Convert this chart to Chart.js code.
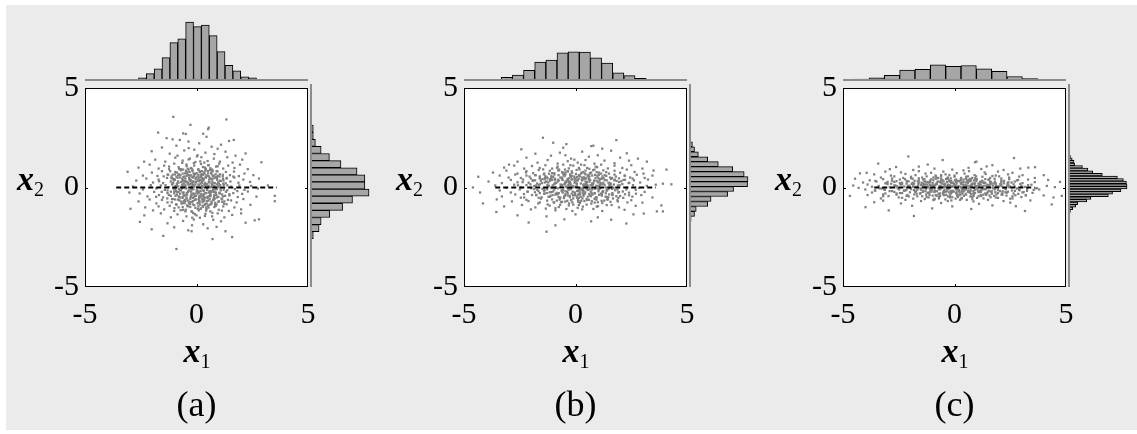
<!DOCTYPE html>
<html>
<head>
<meta charset="utf-8">
<script src="https://cdn.jsdelivr.net/npm/chart.js@4.4.1/dist/chart.umd.min.js"></script>
<style>
  html, body { margin: 0; padding: 0; background: #fff; }
  #bg { position: absolute; left: 6px; top: 5px; width: 1131px; height: 425px; background: #ebebeb; }
  canvas { position: absolute; }
  .lab { position: absolute; font-family: "Liberation Serif", "Times New Roman", serif; color: #000; white-space: nowrap; }
  .ax { font-size: 34px; line-height: 34px; font-style: italic; font-weight: bold; }
  .ax span { font-size: 20px; font-style: normal; font-weight: normal; position: relative; top: 6px; }
  .pl { font-size: 36px; line-height: 36px; text-align: center; width: 100px; }
</style>
</head>
<body>
<div id="bg"></div>
<script>
// x1 histogram (top) bin centres and counts, per panel
const topBinsA = [-3.134, -2.781, -2.428, -2.075, -1.722, -1.369, -1.016, -0.663, -0.310, 0.043, 0.396, 0.749, 1.102, 1.455, 1.808, 2.161, 2.514, 2.867, 3.220, 3.573];
const topCountsA = [3, 2, 8, 18, 30, 57, 94, 103, 144, 133, 137, 111, 72, 38, 25, 10, 8, 4, 1, 2];
const topBinsB = [-4.58, -4.08, -3.58, -3.08, -2.58, -2.08, -1.58, -1.08, -0.58, -0.08, 0.42, 0.92, 1.42, 1.92, 2.42, 2.92, 3.42, 3.92, 4.42];
const topCountsB = [3, 3, 2, 18, 28, 51, 91, 101, 135, 140, 139, 111, 86, 39, 26, 13, 8, 3, 2];
const topBinsC = [-4.868, -4.180, -3.492, -2.804, -2.116, -1.428, -0.740, -0.052, 0.636, 1.324, 2.012, 2.700, 3.388, 4.076, 4.764];
const topCountsC = [7, 18, 29, 51, 98, 105, 145, 130, 138, 109, 87, 40, 22, 14, 7];

// x2 histogram (right) bin centres (top to bottom) and counts
const sideBinsA = [3.50, 3.15, 2.80, 2.45, 2.10, 1.75, 1.40, 1.05, 0.70, 0.35, 0.00, -0.35, -0.70, -1.05, -1.40, -1.75, -2.10, -2.45, -2.80, -3.15];
const sideCountsA = [3, 3, 8, 8, 13, 27, 47, 75, 114, 133, 133, 143, 103, 79, 48, 27, 22, 8, 2, 3];
const sideBinsB = [2.520, 2.275, 2.030, 1.785, 1.540, 1.295, 1.050, 0.805, 0.560, 0.315, 0.070, -0.175, -0.420, -0.665, -0.910, -1.155, -1.400, -1.645, -1.890, -2.135];
const sideCountsB = [3, 3, 8, 13, 22, 44, 69, 103, 130, 139, 138, 105, 91, 52, 44, 17, 13, 5, 3, 2];
const sideBinsC = [1.556, 1.428, 1.300, 1.172, 1.044, 0.916, 0.788, 0.660, 0.532, 0.404, 0.276, 0.148, 0.020, -0.108, -0.236, -0.364, -0.492, -0.620, -0.748, -0.876, -1.004, -1.132, -1.260, -1.388];
const sideCountsC = [3, 4, 7, 10, 11, 24, 33, 41, 57, 82, 92, 97, 98, 98, 88, 74, 67, 38, 31, 16, 13, 8, 4, 3];

// dashed reference line
const lineX = [-3.6, 3.6];
const lineY = [0, 0];

// tick values
const tickVals = [-5, 0, 5];
const panelLabels = ['(a)', '(b)', '(c)'];

// scatter points, x1,x2 pairs
const scatterA = [
  -1.04,3.55, 1.34,3.42, -0.27,3.15, 0.55,3.01,
  0.52,2.93, -1.72,2.76, -0.6,2.72, -0.48,2.69, 0.3,2.7,
  -1.34,2.48, -1.07,2.42, -0.75,2.39, -0.36,2.31, 0.45,2.55, 1.46,2.34, 1.67,2.39,
  -0.9,2.1, 0.12,2.22, 0.68,2.05, 1.1,2.15, -0.35,1.98, -1.55,2.01, 0.95,1.95,
  -2.01,1.82, -1.2,1.7, -0.55,1.86, 0.05,1.62, 0.4,1.75, 0.8,1.68, 1.3,1.8, 1.75,1.6, -0.1,1.9, -0.85,1.6, 2.2,1.71,
  2.91,1.27, -1.85,1.4, -1.4,1.3, -0.95,1.5, -0.62,1.35, -0.3,1.45, -0.05,1.28, 0.22,1.52, 0.5,1.33, 0.78,1.45, 1.05,1.3, 1.38,1.52, 1.62,1.25, 2.05,1.4, -2.35,1.3, 0.35,1.25,
  -2.6,1.0, -2.1,1.15, -1.7,0.95, -1.45,1.1, -1.23,0.92, -1.0,1.2, -0.8,1.02, -0.6,0.9, -0.45,1.15, -0.25,0.98, -0.1,1.1, 0.08,0.92, 0.2,1.18, 0.38,1.0, 0.55,1.12, 0.7,0.9, 0.88,1.05, 1.02,1.2, 1.2,0.95, 1.42,1.1, 1.7,0.98, 1.95,1.15, 2.3,0.92, -0.35,0.9, 0.62,0.97,
  -3.09,0.79, -2.4,0.6, -2.0,0.75, -1.75,0.58, -1.55,0.82, -1.3,0.65, -1.12,0.55, -0.95,0.78, -0.82,0.62, -0.7,0.86, -0.55,0.55, -0.42,0.72, -0.3,0.6, -0.18,0.82, -0.05,0.68, 0.05,0.55, 0.15,0.78, 0.28,0.64, 0.4,0.85, 0.52,0.58, 0.65,0.74, 0.78,0.6, 0.9,0.82, 1.05,0.66, 1.18,0.55, 1.32,0.78, 1.5,0.62, 1.68,0.8, 1.9,0.57, 2.15,0.7, 2.55,0.62, -0.12,0.58, 0.35,0.7, -0.62,0.7, 0.72,0.84,
  -2.7,0.35, -2.25,0.45, -1.95,0.25, -1.7,0.4, -1.5,0.22, -1.32,0.48, -1.15,0.3, -1.0,0.42, -0.88,0.2, -0.75,0.5, -0.62,0.32, -0.5,0.45, -0.38,0.24, -0.26,0.38, -0.15,0.5, -0.03,0.28, 0.08,0.44, 0.18,0.2, 0.3,0.36, 0.42,0.5, 0.55,0.26, 0.68,0.42, 0.8,0.22, 0.92,0.48, 1.05,0.34, 1.2,0.2, 1.35,0.45, 1.52,0.3, 1.7,0.5, 1.88,0.24, 2.1,0.4, 2.4,0.28, 2.8,0.45, -0.45,0.3, 0.12,0.32, 0.6,0.48, -1.05,0.22, 0.25,0.48, -0.2,0.22, 1.0,0.2,
  -2.85,0.05, -2.4,-0.1, -2.05,0.12, -1.8,-0.05, -1.6,0.1, -1.42,-0.12, -1.25,0.02, -1.1,0.15, -0.95,-0.08, -0.82,0.06, -0.7,-0.15, -0.58,0.1, -0.46,-0.02, -0.34,0.14, -0.22,-0.1, -0.1,0.04, 0.02,-0.14, 0.12,0.1, 0.24,-0.04, 0.36,0.16, 0.48,-0.12, 0.6,0.02, 0.72,0.12, 0.84,-0.1, 0.96,0.06, 1.08,-0.05, 1.22,0.13, 1.38,-0.14, 1.55,0.04, 1.72,-0.08, 1.92,0.1, 2.15,-0.12, 2.45,0.08, 2.75,-0.05, 3.2,0.1, -0.05,0.15, 0.3,-0.15, -0.65,-0.05, 0.55,0.08, -1.3,-0.15,
  -3.01,-0.25, 3.51,-0.42, 2.69,-0.46, -2.55,-0.3, -2.2,-0.45, -1.9,-0.22, -1.68,-0.38, -1.5,-0.5, -1.3,-0.28, -1.15,-0.42, -1.0,-0.2, -0.88,-0.35, -0.75,-0.5, -0.62,-0.26, -0.5,-0.4, -0.38,-0.22, -0.26,-0.48, -0.14,-0.3, -0.02,-0.42, 0.1,-0.2, 0.2,-0.36, 0.32,-0.5, 0.44,-0.28, 0.56,-0.44, 0.68,-0.22, 0.8,-0.38, 0.92,-0.5, 1.05,-0.3, 1.18,-0.45, 1.32,-0.22, 1.48,-0.4, 1.65,-0.28, 1.85,-0.48, 2.05,-0.32, 2.3,-0.2, 0.0,-0.25, 0.25,-0.45, -0.45,-0.5, 0.62,-0.32, -0.8,-0.22, 0.15,-0.5, 0.85,-0.25, -0.2,-0.35,
  3.51,-0.69, 2.42,-0.87, -2.6,-0.7, -2.1,-0.6, -1.8,-0.8, -1.55,-0.62, -1.3,-0.75, -1.1,-0.58, -0.92,-0.85, -0.76,-0.65, -0.6,-0.78, -0.44,-0.56, -0.3,-0.72, -0.16,-0.85, -0.02,-0.6, 0.12,-0.75, 0.26,-0.58, 0.4,-0.82, 0.54,-0.66, 0.68,-0.8, 0.82,-0.56, 0.98,-0.72, 1.15,-0.6, 1.35,-0.84, 1.55,-0.65, 1.8,-0.75, 2.1,-0.58, 0.05,-0.8, 0.35,-0.68, -0.5,-0.68, 0.9,-0.85, 1.25,-0.7,
  -2.96,-1.07, -2.3,-1.0, -1.95,-1.15, -1.7,-0.95, -1.45,-1.1, -1.2,-0.92, -1.0,-1.18, -0.8,-1.0, -0.6,-1.12, -0.4,-0.94, -0.22,-1.2, -0.05,-1.02, 0.1,-1.15, 0.28,-0.92, 0.45,-1.08, 0.62,-1.2, 0.8,-0.98, 1.0,-1.12, 1.2,-0.95, 1.45,-1.18, 1.7,-1.0, 2.0,-1.1, 0.2,-1.05, -0.5,-1.2,
  -2.34,-1.4, -1.6,-1.3, -1.15,-1.5, -0.85,-1.35, -0.45,-1.45, -0.15,-1.28, 0.15,-1.52, 0.4,-1.32, 0.7,-1.45, 0.95,-1.3, 1.25,-1.5, 1.6,-1.38, 2.0,-1.3, 0.0,-1.4,
  2.61,-1.65, 2.8,-1.6, 2.2,-1.77, -2.54,-1.73, -1.3,-1.8, -0.6,-1.68, 0.3,-1.85, 1.1,-1.7, 0.75,-1.62, -0.2,-1.9,
  -2.01,-2.1, -0.37,-2.15, -0.22,-2.2, -1.0,-2.0, 0.5,-2.05, 1.3,-2.2, 0.9,-1.98,
  -1.49,-2.43, 1.6,-2.49, 0.72,-2.59, -0.9,-3.09,
  0.13,-0.42, -0.57,0.21, 0.81,0.07, -0.29,-0.83, 0.44,0.61, -0.92,-0.18, 0.06,0.33, 1.12,-0.56, -0.41,0.77, 0.67,-0.71, -0.14,-0.09, 0.29,1.03, -1.06,0.44, 0.93,0.38, -0.63,-0.52, 0.18,-1.07, -0.33,0.49, 0.55,-0.24, -0.78,0.93, 1.31,0.21,
  -0.05,-0.61, 0.72,0.81, -1.24,-0.37, 0.37,-0.88, -0.47,-0.05, 0.01,0.72, 1.02,-0.27, -0.69,0.28, 0.24,0.09, -0.21,-1.21, 0.61,0.46, -0.97,0.66, 0.49,-0.53, -0.11,0.57, 0.86,-0.93, -0.53,-0.79, 1.18,0.64, -0.36,0.16, 0.11,-0.26, -0.83,-0.61,
  0.39,0.23, -0.18,0.88, 0.74,-0.12, -1.39,0.12, 0.07,-0.78, -0.59,0.52, 1.47,-0.34, -0.25,-0.44, 0.52,1.12, -0.74,-0.31, 0.33,-0.35, -0.44,1.07, 0.96,0.59, -1.11,-0.74, 0.21,0.54, -0.07,-1.34, 0.63,-0.44, -0.88,0.13, 1.24,-0.82, -0.16,0.31,
  0.47,-0.06, -0.62,-0.98, 0.15,0.81, 1.09,0.33, -0.38,-0.66, 0.78,-0.53, -1.02,0.35, 0.03,0.02, -0.51,0.71, 0.58,0.27, -0.24,-0.21, 1.36,0.48, -0.79,-0.08, 0.27,-0.63, -0.12,1.22, 0.89,-0.38, -1.31,-0.55, 0.42,0.94, -0.48,-1.12, 0.69,0.14,
  -0.31,0.41, 0.12,-0.51, -0.85,0.49, 1.01,-0.69, -0.03,0.49, 0.54,-1.01, -0.66,0.04, 0.31,0.66, -1.18,0.82, 0.82,0.22, -0.42,-0.36, 0.19,-0.19, -0.71,-1.14, 1.22,-0.11, 0.08,-0.95, -0.26,0.62, 0.64,-0.84, -0.94,-0.42, 0.36,0.13, -0.09,-0.33,
  1.53,0.03, -1.47,0.56, 0.17,1.31, -0.19,-1.52, 0.95,1.07, -0.99,-1.04, 1.41,-0.62, -1.56,-0.22, 0.71,-1.27, -0.64,1.24, 1.65,0.55, -1.68,0.31, 0.38,-1.43, -0.35,1.41, 1.14,-1.16, -1.23,1.05, 1.83,-0.18, -1.81,-0.47, 0.02,1.56, -0.12,-1.61,
  0.57,0.39, -0.46,0.26, 0.22,-0.34, -0.17,0.14, 0.46,-0.81, -0.72,0.61, 0.88,0.52, -0.58,-0.25, 0.09,0.64, 0.66,-0.19, -0.28,-0.57, 0.32,0.44, -0.89,-0.86, 1.06,0.12, -0.06,-0.43, 0.51,0.83, -1.08,0.17, 0.76,-0.64, -0.39,0.94, 0.14,-0.71,
  0.98,-0.47, -0.55,-0.41, 0.26,0.27, -0.13,0.71, 0.61,-0.33, -0.81,0.24, 0.43,-1.16, -0.23,0.05, 1.19,0.42, -0.68,-0.71, 0.04,-0.18, 0.35,0.76, -1.15,-0.21, 0.84,-0.77, -0.37,-0.93, 0.16,0.38, 1.28,-0.42, -0.97,0.39, 0.53,0.08, -0.2,-0.72,
  -0.02,0.26, 0.68,0.66, -0.6,0.37, 0.29,-0.97, -0.33,-0.14, 0.79,-0.22, -1.27,0.64, 1.16,-0.73, -0.45,0.58, 0.1,-0.58, 0.41,0.52, -0.77,-0.48, 0.92,0.16, -0.15,-0.68, 0.23,0.68, -0.52,-0.62, 1.38,0.11, -1.05,-0.58, 0.59,-0.58, -0.27,0.32,
  0.34,-0.16, -0.49,0.11, 0.71,0.3, -0.16,-0.52, 0.25,0.82, -0.73,-0.12, 0.58,-0.87, -0.3,0.36, 0.92,-0.08, -0.87,0.75, 0.05,-0.31, 0.46,0.17, -0.56,-0.67, 0.14,0.51, 1.03,0.55, -0.21,0.95, 0.63,-0.39, -1.0,-0.29, 0.27,-0.74, -0.38,0.62,
  0.8,0.47, -0.64,0.44, 0.18,-0.04, -0.1,-0.89, 0.52,0.71, -0.95,0.07, 0.39,-0.5, -0.44,-0.27, 1.15,-0.35, -0.26,0.19, 0.09,0.88, 0.75,-0.61, -0.7,0.92, 0.31,0.39, -0.12,-0.46, 0.66,0.02, -1.12,0.47, 0.43,-1.01, -0.34,-0.78, 0.97,0.26,
  -0.04,0.41, 0.6,-0.17, -0.8,-0.44, 0.2,0.62, -0.52,0.33, 0.86,0.66, -0.24,-0.07, 0.37,-0.29, -0.9,0.55, 0.12,-0.66, 0.55,0.55, -0.42,-0.9, 1.08,-0.15, -0.65,0.15, 0.02,-0.12, 0.7,0.42, -0.31,0.78, 0.48,-0.68, -1.03,-0.06, 0.24,0.24,
  0.87,-0.27, -0.58,-0.36, 0.16,-0.86, -0.19,0.53, 0.61,0.88, -0.83,0.31, 0.42,0.06, -0.07,-0.62, 1.21,0.35, -0.47,0.84, 0.3,-0.41, -0.67,-0.81, 0.79,-0.45, -0.13,0.27, 0.51,-0.93, -1.07,0.64, 0.09,0.15, -0.36,-0.18, 0.94,0.81, -0.28,-0.98,
  0.68,0.2, -0.78,0.66, 0.35,-0.59, -0.1,0.66, 0.59,-0.27, -0.96,-0.6, 0.22,0.36, -0.5,0.02, 1.0,0.03, -0.23,-0.34, 0.41,0.92, -0.62,-0.48, 0.83,-0.86, -0.33,0.47, 0.06,-1.08, 0.73,0.56, -0.86,-0.23, 0.28,0.02, -0.15,0.12, 0.5,-0.46
];

const scatterB = [
  -1.46,2.5, 1.83,2.38, -0.41,2.18, -1.0,2.25,
  0.71,2.08, 0.8,2.1, -2.43,1.92, -0.55,2.0, 1.2,1.95,
  -0.7,1.75, 0.3,1.8, -1.8,1.7, 1.6,1.85, 2.3,1.72,
  -2.2,1.5, -1.1,1.6, -0.2,1.45, 0.6,1.55, 1.0,1.62, 2.0,1.5, 2.8,1.45, -0.45,1.62,
  -2.98,1.15, -2.6,1.3, -1.7,1.25, -1.25,1.38, -0.8,1.2, -0.35,1.32, 0.1,1.25, 0.45,1.38, 0.85,1.2, 1.3,1.35, 1.75,1.22, 2.4,1.35, 3.2,1.3, -0.05,1.4,
  -3.2,1.0, -2.75,1.1, -2.3,0.95, -1.95,1.08, -1.6,0.98, -1.35,1.12, -1.05,0.95, -0.8,1.05, -0.55,1.15, -0.3,0.96, -0.1,1.1, 0.15,0.98, 0.4,1.12, 0.62,0.94, 0.9,1.05, 1.15,1.15, 1.45,0.96, 1.75,1.1, 2.1,0.98, 2.5,1.12, 3.0,0.95, 0.25,1.15,
  4.08,0.9, -3.7,0.75, -3.1,0.85, -2.6,0.7, -2.2,0.82, -1.9,0.72, -1.65,0.88, -1.4,0.7, -1.15,0.84, -0.95,0.72, -0.75,0.9, -0.55,0.7, -0.35,0.82, -0.15,0.74, 0.05,0.88, 0.25,0.7, 0.45,0.85, 0.65,0.72, 0.85,0.9, 1.05,0.75, 1.25,0.86, 1.5,0.7, 1.75,0.84, 2.0,0.74, 2.3,0.9, 2.65,0.78, 3.05,0.7, 3.5,0.85, -0.45,0.76, 0.35,0.78, 1.15,0.7,
  -4.36,0.54, -3.4,0.6, -3.0,0.5, -2.7,0.65, -2.45,0.48, -2.2,0.6, -2.0,0.45, -1.8,0.62, -1.6,0.5, -1.42,0.66, -1.25,0.46, -1.08,0.58, -0.92,0.44, -0.76,0.62, -0.6,0.5, -0.45,0.66, -0.3,0.46, -0.15,0.58, 0.0,0.44, 0.15,0.62, 0.3,0.5, 0.45,0.66, 0.6,0.46, 0.75,0.6, 0.9,0.48, 1.05,0.64, 1.2,0.45, 1.38,0.58, 1.55,0.5, 1.75,0.65, 1.95,0.46, 2.2,0.6, 2.45,0.5, 2.75,0.64, 3.1,0.48, 3.45,0.6, -0.05,0.55, 0.55,0.56, -1.0,0.52,
  -3.9,0.3, -3.3,0.22, -2.9,0.38, -2.6,0.26, -2.35,0.4, -2.1,0.24, -1.9,0.36, -1.72,0.2, -1.55,0.34, -1.38,0.42, -1.22,0.25, -1.06,0.38, -0.9,0.22, -0.75,0.35, -0.6,0.42, -0.46,0.2, -0.32,0.32, -0.18,0.4, -0.04,0.24, 0.1,0.36, 0.24,0.2, 0.38,0.42, 0.52,0.28, 0.66,0.38, 0.8,0.2, 0.95,0.34, 1.1,0.42, 1.25,0.24, 1.4,0.36, 1.58,0.2, 1.76,0.4, 1.95,0.28, 2.15,0.38, 2.38,0.22, 2.62,0.36, 2.9,0.25, 3.25,0.4, 3.92,0.19, -0.25,0.28, 0.45,0.3, 1.0,0.26, -1.3,0.3,
  -4.6,0.0, 4.3,0.16, -3.6,0.1, -3.1,-0.02, -2.75,0.14, -2.45,0.0, -2.2,0.12, -1.98,-0.04, -1.78,0.1, -1.6,0.16, -1.42,-0.02, -1.26,0.12, -1.1,0.0, -0.95,0.16, -0.8,-0.04, -0.65,0.08, -0.5,0.16, -0.36,-0.02, -0.22,0.12, -0.08,0.02, 0.06,0.16, 0.2,-0.04, 0.34,0.1, 0.48,0.18, 0.62,0.0, 0.76,0.12, 0.9,-0.04, 1.05,0.08, 1.2,0.16, 1.36,0.0, 1.52,0.12, 1.7,-0.03, 1.9,0.1, 2.1,0.17, 2.32,0.0, 2.58,0.12, 2.85,-0.02, 3.2,0.08, 3.6,0.14, -0.15,0.0, 0.55,0.06,
  -4.28,-0.25, -3.4,-0.15, -2.9,-0.25, -2.5,-0.1, -2.15,-0.22, -1.85,-0.08, -1.6,-0.28, -1.38,-0.14, -1.15,-0.24, -0.95,-0.1, -0.75,-0.28, -0.55,-0.12, -0.38,-0.22, -0.2,-0.08, -0.02,-0.26, 0.16,-0.12, 0.32,-0.24, 0.5,-0.08, 0.68,-0.2, 0.86,-0.28, 1.04,-0.1, 1.22,-0.22, 1.42,-0.14, 1.65,-0.28, 1.88,-0.1, 2.12,-0.2, 2.4,-0.26, 2.7,-0.12, 3.1,-0.22, 0.1,-0.18, -0.6,-0.2, 0.75,-0.1,
  -3.3,-0.45, -2.7,-0.35, -2.3,-0.5, -1.95,-0.38, -1.65,-0.52, -1.4,-0.32, -1.15,-0.46, -0.9,-0.36, -0.68,-0.5, -0.45,-0.34, -0.25,-0.48, -0.05,-0.38, 0.15,-0.52, 0.35,-0.32, 0.55,-0.46, 0.75,-0.36, 0.95,-0.5, 1.18,-0.34, 1.4,-0.48, 1.65,-0.38, 1.92,-0.52, 2.22,-0.34, 2.55,-0.46, 2.95,-0.38, 3.45,-0.5, 0.05,-0.44, -0.35,-0.4,
  -4.15,-0.8, -3.53,-0.6, -2.85,-0.7, -2.2,-0.62, -1.6,-0.75, -1.05,-0.6, -0.6,-0.72, -0.2,-0.64, 0.2,-0.78, 0.6,-0.62, 1.0,-0.74, 1.45,-0.6, 1.9,-0.7, 2.5,-0.64, 3.0,-0.76, 0.4,-0.68,
  -3.2,-0.95, -2.4,-0.88, -1.8,-1.0, -1.25,-0.85, -0.75,-0.98, -0.3,-0.9, 0.1,-1.02, 0.5,-0.86, 0.95,-0.96, 1.4,-0.88, 1.95,-1.0, 2.7,-0.92, 3.85,-0.9,
  -3.55,-1.23, 3.65,-1.2, 3.92,-1.2, 3.06,-1.31, -2.0,-1.1, -0.9,-1.15, 0.3,-1.1, 1.2,-1.18, 2.2,-1.12,
  -2.6,-1.4, -1.3,-1.45, 0.0,-1.35, 1.0,-1.5, 2.6,-1.35,
  -2.1,-1.76, -0.5,-1.6, 0.7,-1.7, 1.6,-1.62, 2.28,-1.81, -0.9,-1.9, -1.3,-2.22,
  0.21,-0.35, -1.13,0.42, 1.57,0.12, -0.46,-0.71, 0.88,0.63, -1.82,-0.24, 0.05,0.21, 2.14,-0.52, -0.77,0.85, 1.29,-0.66, -0.25,-0.08, 0.52,0.98, -2.06,0.55, 1.74,0.36, -1.21,-0.47, 0.33,-0.96, -0.62,0.47, 1.03,-0.19, -1.45,0.91, 2.41,0.24,
  -0.1,-0.55, 1.38,0.77, -2.31,-0.33, 0.71,-0.81, -0.87,-0.02, 0.02,0.68, 1.92,-0.25, -1.31,0.29, 0.45,0.07, -0.41,-1.08, 1.15,0.44, -1.79,0.62, 0.92,-0.49, -0.21,0.53, 1.62,-0.88, -0.98,-0.74, 2.22,0.59, -0.67,0.15, 0.19,-0.24, -1.55,-0.56,
  0.74,0.2, -0.34,0.81, 1.41,-0.11, -2.58,0.11, 0.12,-0.72, -1.09,0.49, 2.71,-0.31, -0.48,-0.41, 0.97,1.02, -1.39,-0.29, 0.61,-0.33, -0.83,0.99, 1.81,0.55, -2.11,-0.68, 0.39,0.51, -0.14,-1.18, 1.18,-0.41, -1.65,0.12, 2.33,-0.75, -0.3,0.28,
  0.88,-0.06, -1.16,-0.91, 0.28,0.75, 2.05,0.31, -0.71,-0.61, 1.47,-0.49, -1.92,0.33, 0.06,0.02, -0.95,0.65, 1.09,0.25, -0.45,-0.19, 2.56,0.45, -1.48,-0.07, 0.5,-0.58, -0.23,1.12, 1.67,-0.35, -2.45,-0.51, 0.79,0.87, -0.9,-1.04, 1.3,0.13,
  -0.58,0.38, 0.23,-0.47, -1.6,0.45, 1.88,-0.64, -0.05,0.46, 1.01,-0.94, -1.24,0.04, 0.58,0.61, -2.22,0.76, 1.53,0.21, -0.79,-0.34, 0.36,-0.18, -1.33,-1.06, 2.28,-0.1, 0.15,-0.88, -0.49,0.57, 1.2,-0.78, -1.76,-0.39, 0.68,0.12, -0.17,-0.31,
  1.07,0.36, -0.86,0.24, 0.41,-0.32, -0.32,0.13, 0.86,-0.76, -1.35,0.57, 1.64,0.48, -1.08,-0.23, 0.17,0.6, 1.24,-0.18, -0.52,-0.53, 0.6,0.41, -1.67,-0.8, 1.98,0.11, -0.11,-0.4, 0.95,0.77, -2.02,0.16, 1.42,-0.6, -0.73,0.88, 0.26,-0.66,
  1.83,-0.44, -1.03,-0.38, 0.49,0.25, -0.24,0.66, 1.14,-0.31, -1.51,0.22, 0.8,-1.08, -0.43,0.05, 2.22,0.39, -1.27,-0.66, 0.07,-0.17, 0.65,0.71, -2.15,-0.2, 1.57,-0.72, -0.69,-0.87, 0.3,0.35, 2.4,-0.39, -1.81,0.36, 0.99,0.07, -0.37,-0.67,
  0.43,0.14, -0.63,-0.15, 1.21,0.56, -0.19,-0.62, 0.56,-0.12, -0.93,0.37, 0.14,0.44, 1.66,0.03, -1.42,-0.16, 0.31,-0.55, -0.36,0.37, 0.83,0.31, -1.19,0.69, 1.36,-0.29, -0.03,-0.27, 0.69,-0.44, -0.56,0.74, 1.11,-0.05, -1.71,-0.12, 0.18,0.91,
  -0.76,-0.48, 0.47,0.46, 1.49,-0.07, -0.28,0.22, 0.94,-0.61, -1.02,0.11, 0.11,-0.36, -0.47,0.9, 2.0,-0.43, -1.37,0.48, 0.63,0.29, -0.14,-0.75, 1.31,0.62, -0.84,-0.27, 0.37,0.16, -2.37,0.27, 1.78,-0.14, -0.6,0.13, 0.04,0.34, 1.02,0.49,
  0.34,-0.12, -0.79,0.31, 1.13,0.22, -0.26,-0.42, 0.62,0.55, -1.27,-0.09, 0.09,0.38, 1.51,-0.35, -0.53,0.64, 0.87,-0.58, -0.1,0.08, 0.41,0.71, -1.48,0.42, 1.26,0.48, -0.88,-0.33, 0.22,-0.69, -0.44,0.31, 0.72,-0.27, -1.05,0.72, 1.72,0.15,
  -0.02,-0.37, 0.98,0.59, -1.66,-0.18, 0.52,-0.63, -0.63,0.04, 0.07,0.53, 1.39,-0.16, -0.94,0.2, 0.31,-0.04, -0.29,-0.8, 0.84,0.36, -1.29,0.51, 0.66,-0.4, -0.15,0.42, 1.17,-0.67, -0.7,-0.55, 1.6,0.43, -0.47,0.24, 0.13,-0.16, -1.12,-0.42,
  0.53,0.13, -0.24,0.6, 1.02,-0.04, -1.86,0.07, 0.08,-0.52, -0.79,0.39, 1.95,-0.23, -0.35,-0.29, 0.7,0.75, -1.0,-0.2, 0.44,-0.24, -0.6,0.77, 1.31,0.38, -1.52,-0.49, 0.28,0.4, -0.1,-0.86, 0.85,-0.31, -1.19,0.09, 1.68,-0.55, -0.22,0.19,
  0.63,-0.08, -0.84,-0.66, 0.2,0.56, 1.48,0.24, -0.51,-0.45, 1.06,-0.37, -1.38,0.25, 0.04,0.06, -0.68,0.5, 0.78,0.18, -0.32,-0.13, 1.84,0.33, -1.07,-0.03, 0.36,-0.43, -0.17,0.81, 1.2,-0.24, -1.76,-0.37, 0.57,0.62, -0.65,-0.74, 0.94,0.09,
  -0.42,0.27, 0.16,-0.34, -1.15,0.34, 1.35,-0.46, -0.04,0.33, 0.73,-0.69, -0.89,0.0, 0.42,0.45, -1.6,0.56, 1.1,0.13, -0.57,-0.25, 0.26,-0.11, -0.96,-0.76, 1.64,-0.07, 0.11,-0.63, -0.35,0.43, 0.86,-0.56, -1.27,-0.28, 0.49,0.06, -0.12,-0.21
];

const scatterC = [
  -2.07,1.56, 2.67,1.48, -0.53,1.38, 0.92,1.27, 0.98,1.3,
  -3.42,1.2, -1.2,1.15, 1.7,1.12,
  -2.62,1.03, 3.61,1.02, 3.31,1.0, 1.44,1.06, 0.63,0.99, -1.6,1.05,
  -2.9,0.92, -1.85,0.88, -0.9,0.95, -0.1,0.9, 0.4,0.86, 1.2,0.93, 2.2,0.88, 2.95,0.95,
  -3.94,0.74, -4.24,0.71, -3.1,0.8, -2.4,0.76, -1.6,0.82, -1.05,0.74, -0.5,0.8, 0.1,0.72, 0.65,0.82, 1.35,0.76, 1.95,0.8, 2.6,0.74,
  4.0,0.62, -3.6,0.66, -2.85,0.6, -2.2,0.68, -1.75,0.62, -1.3,0.7, -0.85,0.6, -0.4,0.66, 0.0,0.6, 0.45,0.7, 0.9,0.62, 1.4,0.68, 1.85,0.6, 2.4,0.66, 3.05,0.62,
  -3.3,0.5, -2.7,0.56, -2.3,0.48, -1.95,0.54, -1.6,0.46, -1.25,0.56, -0.95,0.5, -0.6,0.56, -0.3,0.46, 0.0,0.54, 0.3,0.48, 0.6,0.56, 0.92,0.46, 1.25,0.54, 1.6,0.48, 2.0,0.56, 2.45,0.5, 2.9,0.55, 3.6,0.48,
  -4.46,0.44, -3.8,0.36, -3.2,0.42, -2.8,0.34, -2.45,0.4, -2.15,0.33, -1.88,0.44, -1.6,0.36, -1.35,0.42, -1.1,0.34, -0.85,0.44, -0.6,0.36, -0.38,0.42, -0.15,0.33, 0.08,0.4, 0.3,0.35, 0.52,0.44, 0.75,0.36, 1.0,0.42, 1.25,0.34, 1.52,0.4, 1.8,0.44, 2.1,0.35, 2.45,0.42, 2.8,0.36, 3.3,0.4, 4.2,0.38,
  4.73,0.28, -4.1,0.25, -3.5,0.3, -3.05,0.22, -2.7,0.28, -2.4,0.2, -2.12,0.3, -1.88,0.24, -1.65,0.31, -1.42,0.2, -1.2,0.27, -0.98,0.22, -0.76,0.3, -0.55,0.2, -0.34,0.28, -0.12,0.22, 0.1,0.3, 0.3,0.2, 0.5,0.26, 0.7,0.31, 0.92,0.21, 1.15,0.28, 1.38,0.22, 1.6,0.3, 1.85,0.2, 2.1,0.27, 2.38,0.23, 2.7,0.3, 3.05,0.22, 3.6,0.27,
  -4.54,0.1, -3.9,0.15, -3.4,0.08, -3.0,0.17, -2.65,0.1, -2.35,0.16, -2.08,0.07, -1.85,0.14, -1.62,0.18, -1.42,0.08, -1.22,0.15, -1.02,0.1, -0.82,0.18, -0.62,0.07, -0.42,0.14, -0.22,0.1, -0.02,0.17, 0.18,0.08, 0.38,0.15, 0.58,0.1, 0.78,0.18, 0.98,0.07, 1.18,0.14, 1.4,0.09, 1.62,0.17, 1.86,0.08, 2.1,0.15, 2.36,0.1, 2.65,0.16, 3.0,0.08, 3.45,0.14, 4.14,0.08,
  -4.3,-0.02, -3.7,0.04, -3.25,-0.05, -2.9,0.02, -2.55,-0.04, -2.25,0.05, -1.98,-0.02, -1.75,0.03, -1.52,-0.06, -1.32,0.04, -1.12,-0.03, -0.92,0.05, -0.72,-0.05, -0.52,0.02, -0.32,-0.04, -0.12,0.05, 0.08,-0.02, 0.28,0.04, 0.48,-0.06, 0.68,0.03, 0.88,-0.03, 1.08,0.05, 1.28,-0.05, 1.5,0.02, 1.72,-0.04, 1.95,0.04, 2.2,-0.02, 2.48,0.05, 2.8,-0.05, 3.15,0.03, 3.7,-0.03, 4.5,0.02,
  -4.0,-0.1, -3.55,-0.16, -3.15,-0.09, -2.8,-0.18, -2.48,-0.1, -2.2,-0.15, -1.95,-0.08, -1.72,-0.17, -1.5,-0.11, -1.3,-0.19, -1.08,-0.09, -0.88,-0.15, -0.68,-0.1, -0.48,-0.18, -0.28,-0.08, -0.08,-0.16, 0.12,-0.1, 0.32,-0.19, 0.52,-0.09, 0.72,-0.15, 0.92,-0.11, 1.12,-0.18, 1.34,-0.08, 1.56,-0.16, 1.8,-0.1, 2.04,-0.18, 2.3,-0.09, 2.58,-0.15, 2.9,-0.11, 3.25,-0.17, 3.8,-0.1, 0.2,-0.14,
  -3.7,-0.25, -3.1,-0.3, -2.7,-0.22, -2.35,-0.28, -2.0,-0.24, -1.7,-0.31, -1.42,-0.22, -1.15,-0.29, -0.9,-0.23, -0.65,-0.3, -0.4,-0.22, -0.15,-0.28, 0.1,-0.24, 0.35,-0.31, 0.6,-0.22, 0.85,-0.29, 1.1,-0.23, 1.38,-0.3, 1.65,-0.22, 1.95,-0.28, 2.28,-0.24, 2.65,-0.3, 3.1,-0.23, 3.5,-0.27,
  -4.69,-0.42, 4.81,-0.42, -3.9,-0.38, -3.2,-0.44, -2.6,-0.36, -2.15,-0.42, -1.8,-0.35, -1.45,-0.44, -1.12,-0.37, -0.8,-0.42, -0.5,-0.35, -0.2,-0.44, 0.12,-0.37, 0.42,-0.42, 0.75,-0.35, 1.08,-0.44, 1.42,-0.37, 1.78,-0.42, 2.15,-0.36, 2.6,-0.44, 3.2,-0.38, 4.0,-0.4,
  4.44,-0.5, -3.3,-0.55, -2.5,-0.5, -1.85,-0.56, -1.25,-0.48, -0.7,-0.55, -0.2,-0.5, 0.3,-0.56, 0.8,-0.48, 1.3,-0.55, 1.85,-0.5, 2.5,-0.56, 3.0,-0.48,
  -3.2,-0.66, -2.2,-0.62, -1.5,-0.68, -0.9,-0.6, -0.3,-0.68, 0.25,-0.62, 0.85,-0.7, 1.5,-0.62, 2.2,-0.68, 3.4,-0.65,
  -3.6,-0.74, -2.4,-0.8, -0.6,-0.78, 1.1,-0.82, 2.5,-0.76, 4.36,-0.85,
  -1.9,-0.92, -0.1,-0.95, 1.7,-0.9, 2.75,-0.94,
  -3.99,-0.99, -1.0,-1.05, 0.75,-1.08, -2.95,-1.15, 3.16,-1.18, -1.82,-1.43,
  0.21,-0.18, -1.13,0.24, 1.57,0.07, -0.46,-0.39, 0.88,0.35, -1.82,-0.13, 0.05,0.12, 2.14,-0.29, -0.77,0.47, 1.29,-0.36, -0.25,-0.04, 0.52,0.54, -2.06,0.31, 1.74,0.2, -1.21,-0.26, 0.33,-0.53, -0.62,0.26, 1.03,-0.1, -1.45,0.5, 2.41,0.13,
  -2.6,-0.3, 1.38,0.42, -2.91,-0.18, 0.71,-0.45, -0.87,-0.01, 0.02,0.37, 2.92,-0.14, -1.31,0.16, 0.45,0.04, -0.41,-0.6, 1.15,0.24, -1.79,0.34, 0.92,-0.27, -0.21,0.29, 1.62,-0.49, -0.98,-0.41, 2.22,0.33, -0.67,0.08, 0.19,-0.13, -1.55,-0.31,
  0.74,0.11, -0.34,0.45, 1.41,-0.06, -2.58,0.06, 0.12,-0.4, -1.09,0.27, 2.71,-0.17, -0.48,-0.23, 0.97,0.56, -1.39,-0.16, 0.61,-0.18, -0.83,0.55, 1.81,0.3, -2.11,-0.38, 0.39,0.28, -0.14,-0.65, 1.18,-0.23, -1.65,0.07, 2.33,-0.41, -0.3,0.15,
  0.88,-0.03, -1.16,-0.5, 0.28,0.41, 2.05,0.17, -0.71,-0.34, 1.47,-0.27, -1.92,0.18, 0.06,0.01, -0.95,0.36, 1.09,0.14, -0.45,-0.1, 2.56,0.25, -1.48,-0.04, 0.5,-0.32, -0.23,0.62, 1.67,-0.19, -2.45,-0.28, 0.79,0.48, -0.9,-0.57, 1.3,0.07,
  -3.1,0.21, 3.05,-0.25, -3.35,-0.05, 3.3,0.12, -2.8,0.45, 2.85,0.38, -3.55,0.33, 3.55,-0.12, -2.35,-0.52, 2.6,-0.55, -0.58,0.21, 0.23,-0.26, -1.6,0.25, 1.88,-0.35, -0.05,0.25, 1.01,-0.52, -1.24,0.02, 0.58,0.34, -2.22,0.42, 1.53,0.12,
  -0.79,-0.19, 0.36,-0.1, -1.33,-0.58, 2.28,-0.06, 0.15,-0.48, -0.49,0.31, 1.2,-0.43, -1.76,-0.21, 0.68,0.07, -0.17,-0.17, 1.07,0.2, -0.86,0.13, 0.41,-0.18, -0.32,0.07, 0.86,-0.42, -1.35,0.31, 1.64,0.26, -1.08,-0.13, 0.17,0.33, 1.24,-0.1,
  -0.52,-0.29, 0.6,0.23, -1.67,-0.44, 1.98,0.06, -0.11,-0.22, 0.95,0.42, -2.02,0.09, 1.42,-0.33, -0.73,0.48, 0.26,-0.36, 1.83,-0.24, -1.03,-0.21, 0.49,0.14, -0.24,0.36, 1.14,-0.17, -1.51,0.12, 0.8,-0.59, -0.43,0.03, 2.22,0.21, -1.27,-0.36,
  0.07,-0.09, 0.65,0.39, -2.15,-0.11, 1.57,-0.4, -0.69,-0.48, 0.3,0.19, 2.4,-0.21, -1.81,0.2, 0.99,0.04, -0.37,-0.37, 2.7,0.05, -2.7,0.1, 3.2,-0.4, -3.2,-0.35, 2.95,0.18, -3.0,0.28, 0.43,0.08, -0.63,-0.08, 1.21,0.31, -0.19,-0.34,
  -2.45,0.22, 2.1,0.45, -1.95,0.47, 1.7,0.58, -0.95,-0.63, 0.55,-0.62, -1.4,0.4, 1.35,0.25, -0.3,0.5, 0.7,-0.27, -2.05,-0.45, 1.95,-0.52, -0.6,0.62, 0.05,-0.56, -1.1,0.12, 2.45,0.02, -2.25,-0.15, 0.9,0.16, -0.05,0.06, 1.55,0.38,
  0.34,-0.08, -0.79,0.17, 1.13,0.12, -0.26,-0.24, 0.62,0.31, -1.27,-0.06, 0.09,0.21, 1.51,-0.2, -0.53,0.36, 0.87,-0.33, -0.1,0.05, 0.41,0.4, -1.48,0.24, 1.26,0.27, -0.88,-0.19, 0.22,-0.39, -0.44,0.18, 0.72,-0.15, -1.05,0.41, 1.72,0.09,
  -0.02,-0.21, 0.98,0.33, -1.66,-0.1, 0.52,-0.36, -0.63,0.03, 0.07,0.3, 1.39,-0.09, -0.94,0.11, 0.31,-0.02, -0.29,-0.45, 0.84,0.2, -1.29,0.29, 0.66,-0.23, -0.15,0.24, 1.17,-0.38, -0.7,-0.31, 1.6,0.25, -0.47,0.14, 0.13,-0.09, -1.12,-0.24,
  0.53,0.07, -0.24,0.34, 1.02,-0.02, -1.86,0.04, 0.08,-0.3, -0.79,0.22, 1.95,-0.13, -0.35,-0.17, 0.7,0.43, -1.0,-0.11, 0.44,-0.14, -0.6,0.44, 1.31,0.22, -1.52,-0.28, 0.28,0.23, -0.1,-0.49, 0.85,-0.18, -1.19,0.05, 1.68,-0.31, -0.22,0.11,
  0.63,-0.05, -0.84,-0.38, 0.2,0.32, 1.48,0.14, -0.51,-0.26, 1.06,-0.21, -1.38,0.14, 0.04,0.03, -0.68,0.29, 0.78,0.1, -0.32,-0.07, 1.84,0.19, -1.07,-0.02, 0.36,-0.25, -0.17,0.46, 1.2,-0.14, -1.76,-0.21, 0.57,0.35, -0.65,-0.42, 0.94,0.05,
  -2.42,0.15, 2.16,-0.19, -2.15,0.19, 2.35,-0.26, -2.84,0.19, 2.73,-0.39, -2.89,0.0, 2.42,0.26, -2.6,0.32, 2.1,0.07, -3.57,-0.14, 3.26,-0.06, -2.96,-0.43, 3.64,-0.04, 2.11,-0.36, -2.35,0.24, 2.86,-0.32, -2.27,-0.16, 2.49,0.03, -3.12,-0.12
];

// ---- layout ----
const boxLeft = [85, 464, 843];
const boxTop = 84, boxW = 223, boxH = 203;
const histLen = 59;       // pixel length of the tallest bar in a panel
const histArea = 62;      // depth of the histogram plots
const serif = '"Liberation Serif", "Times New Roman", serif';

Chart.defaults.font.family = serif;
Chart.defaults.color = '#000';
Chart.defaults.animation = false;
Chart.defaults.devicePixelRatio = 1;
Chart.defaults.plugins.legend.display = false;
Chart.defaults.plugins.tooltip.enabled = false;

function makeCanvas(left, top, w, h) {
  const c = document.createElement('canvas');
  c.width = w;
  c.height = h;
  c.style.left = left + 'px';
  c.style.top = top + 'px';
  c.style.width = w + 'px';
  c.style.height = h + 'px';
  document.body.appendChild(c);
  return c;
}

function addLabel(cls, html, left, top) {
  const d = document.createElement('div');
  d.className = 'lab ' + cls;
  d.innerHTML = html;
  d.style.left = left + 'px';
  d.style.top = top + 'px';
  document.body.appendChild(d);
}

function pairs(flat) {
  const out = [];
  for (let i = 0; i < flat.length; i += 2) out.push({ x: flat[i], y: flat[i + 1] });
  return out;
}

function density(bins, counts) {
  const w = Math.abs(bins[1] - bins[0]);
  return counts.map(c => c / w);
}

// draws the white plot area, the box and the inward ticks at 0
const boxPlugin = {
  id: 'box',
  beforeDatasetsDraw(chart) {
    const a = chart.chartArea, ctx = chart.ctx;
    ctx.save();
    ctx.fillStyle = '#fff';
    ctx.fillRect(a.left, a.top, a.right - a.left, a.bottom - a.top);
    ctx.restore();
  },
  afterDraw(chart) {
    const a = chart.chartArea, ctx = chart.ctx;
    const x0 = Math.round(chart.scales.x.getPixelForValue(0)) + 0.5;
    const y0 = Math.round(chart.scales.y.getPixelForValue(0)) + 0.5;
    ctx.save();
    ctx.strokeStyle = '#000';
    ctx.lineWidth = 1;
    ctx.strokeRect(a.left + 0.5, a.top + 0.5, a.right - a.left - 1, a.bottom - a.top - 1);
    ctx.beginPath();
    ctx.moveTo(x0, a.bottom); ctx.lineTo(x0, a.bottom - 3);
    ctx.moveTo(x0, a.top); ctx.lineTo(x0, a.top + 3);
    ctx.moveTo(a.left, y0); ctx.lineTo(a.left + 3, y0);
    ctx.moveTo(a.right, y0); ctx.lineTo(a.right - 3, y0);
    ctx.stroke();
    ctx.restore();
  }
};

// grey axis line under the histogram bars
const histAxisPlugin = {
  id: 'histAxis',
  afterDatasetsDraw(chart, args, opts) {
    const a = chart.chartArea, ctx = chart.ctx;
    ctx.save();
    ctx.fillStyle = '#8c8c8c';
    if (opts.side) ctx.fillRect(a.left, a.top, 2, a.bottom - a.top);
    else ctx.fillRect(a.left, a.bottom - 2, a.right - a.left, 2);
    ctx.restore();
  }
};

function scatterPanel(i, pts) {
  const L = boxLeft[i];
  const padL = 50, padT = 20, padR = 20, padB = 48;
  const cv = makeCanvas(L - padL, boxTop - padT, boxW + padL + padR, boxH + padT + padB);
  const tickFont = { family: 'Liberation Serif', size: 30 };
  new Chart(cv, {
    type: 'scatter',
    data: {
      datasets: [
        {
          data: lineX.map((x, k) => ({ x: x, y: lineY[k] })),
          showLine: true,
          borderColor: '#000',
          borderWidth: 2,
          borderDash: [5, 3],
          pointRadius: 0
        },
        {
          data: pairs(pts),
          pointStyle: 'rect',
          pointRadius: 1.6,
          borderWidth: 0,
          backgroundColor: '#808080'
        }
      ]
    },
    options: {
      responsive: false,
      layout: { padding: { left: 0, top: padT, right: padR, bottom: 0 } },
      scales: {
        x: {
          type: 'linear', min: -5, max: 5,
          afterBuildTicks: s => { s.ticks = tickVals.map(v => ({ value: v })); },
          afterFit: s => { s.height = padB; },
          ticks: { font: tickFont, color: '#000', padding: 10, maxRotation: 0 },
          grid: { display: false, drawTicks: false },
          border: { display: false }
        },
        y: {
          type: 'linear', min: -5, max: 5,
          afterBuildTicks: s => { s.ticks = tickVals.map(v => ({ value: v })); },
          afterFit: s => { s.width = padL; },
          ticks: { font: tickFont, color: '#000', padding: 6 },
          grid: { display: false, drawTicks: false },
          border: { display: false }
        }
      }
    },
    plugins: [boxPlugin]
  });
}

function histPanel(i, tBins, tCounts, sBins, sCounts) {
  const L = boxLeft[i];
  const tVals = density(tBins, tCounts);
  const sVals = density(sBins, sCounts);
  const peak = Math.max(...tVals, ...sVals);
  const vMax = peak * histArea / histLen;
  const barStyle = {
    backgroundColor: '#a6a6a6',
    borderColor: '#000',
    borderWidth: 1,
    barPercentage: 1,
    categoryPercentage: 1
  };

  // top histogram of x1
  const cTop = makeCanvas(L, boxTop - 3 - histArea, boxW, histArea);
  new Chart(cTop, {
    type: 'bar',
    data: { datasets: [Object.assign({ data: tBins.map((b, k) => ({ x: b, y: tVals[k] })) }, barStyle)] },
    options: {
      responsive: false,
      layout: { padding: 0 },
      scales: {
        x: { type: 'linear', min: -5, max: 5, offset: false, display: false, ticks: { stepSize: 5 } },
        y: { type: 'linear', min: 0, max: vMax, display: false }
      },
      plugins: { histAxis: { side: false } }
    },
    plugins: [histAxisPlugin]
  });

  // right histogram of x2
  const cSide = makeCanvas(L + boxW + 2, boxTop, histArea + 4, boxH);
  new Chart(cSide, {
    type: 'bar',
    data: { datasets: [Object.assign({ data: sBins.map((b, k) => ({ y: b, x: sVals[k] })) }, barStyle)] },
    options: {
      indexAxis: 'y',
      responsive: false,
      layout: { padding: 0 },
      scales: {
        y: { type: 'linear', min: -5, max: 5, offset: false, display: false, ticks: { stepSize: 5 } },
        x: { type: 'linear', min: 0, max: vMax * (histArea + 4) / histArea, display: false }
      },
      plugins: { histAxis: { side: true } }
    },
    plugins: [histAxisPlugin]
  });
}

const scatters = [scatterA, scatterB, scatterC];
const tops = [[topBinsA, topCountsA], [topBinsB, topCountsB], [topBinsC, topCountsC]];
const sides = [[sideBinsA, sideCountsA], [sideBinsB, sideCountsB], [sideBinsC, sideCountsC]];

for (let i = 0; i < 3; i++) {
  scatterPanel(i, scatters[i]);
  histPanel(i, tops[i][0], tops[i][1], sides[i][0], sides[i][1]);
  const L = boxLeft[i];
  const cx = L + boxW / 2;
  addLabel('ax', '<i>x</i><span>2</span>', L - 68, 162);
  addLabel('ax', '<i>x</i><span>1</span>', cx - 13, 334);
  addLabel('pl', panelLabels[i], cx - 50, 386);
}
</script>
</body>
</html>
